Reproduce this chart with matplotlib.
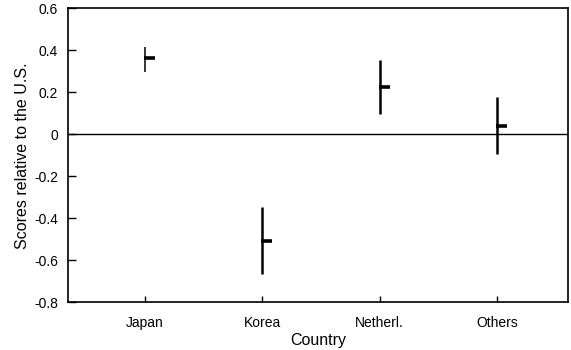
import matplotlib
matplotlib.use('Agg')
import matplotlib.pyplot as plt

# 数据
countries = ['Japan', 'Korea', 'Netherl.', 'Others']
means = [0.362, -0.507, 0.227, 0.040]
upper = [0.416, -0.345, 0.354, 0.176]
lower = [0.298, -0.665, 0.095, -0.094]
yticks = [0.6, 0.4, 0.2, 0, -0.2, -0.4, -0.6, -0.8]
ytick_labels = ['0.6', '0.4', '0.2', '0', '-0.2', '-0.4', '-0.6', '-0.8']

plt.rcParams['font.family'] = ['Liberation Sans', 'DejaVu Sans']

fig = plt.figure(figsize=(5.71, 3.5), dpi=100)
ax = fig.add_axes([0.119, 0.136, 0.876, 0.84])

x = list(range(1, len(countries) + 1))

# 范围竖线 (Japan 的线稍细)
widths = [1.1, 1.8, 1.8, 1.8]
for xi, lo, hi, w in zip(x, lower, upper, widths):
    ax.vlines(xi, lo, hi, colors='black', linewidth=w)
# 均值短横线
ax.hlines(means, [v - 0.01 for v in x], [v + 0.085 for v in x],
          colors='black', linewidth=2.6)

# 零线
ax.axhline(0, color='black', linewidth=1.0)

ax.set_xlim(0.344, 4.605)
ax.set_ylim(-0.8, 0.6)
ax.set_xticks(x)
ax.set_xticklabels(countries, fontsize=10)
ax.set_yticks(yticks)
ax.set_yticklabels(ytick_labels, fontsize=10)
ax.tick_params(axis='y', direction='in', length=6, width=1, pad=7)
ax.tick_params(axis='x', direction='in', length=4, width=1, pad=10)

for s in ax.spines.values():
    s.set_linewidth(1.2)

ax.set_xlabel('Country', fontsize=11.5, labelpad=2)
ax.set_ylabel('Scores relative to the U.S.', fontsize=11.5, labelpad=3)

fig.savefig('out.png', dpi=100)
